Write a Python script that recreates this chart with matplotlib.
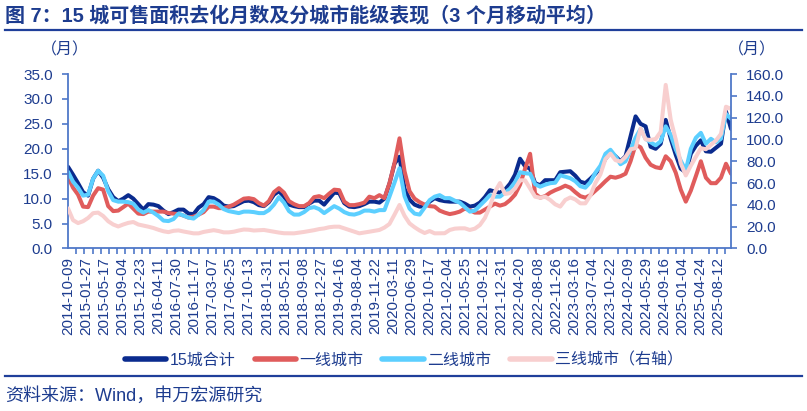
import matplotlib
matplotlib.use("Agg")
import matplotlib.pyplot as plt
import matplotlib.dates as mdates
from matplotlib.lines import Line2D
import pandas as pd

plt.rcParams['font.family'] = ['Liberation Sans', 'Noto Sans CJK SC', 'DejaVu Sans']

# ---------------- data ----------------
start_date = '2014-10-09'
end_date = '2025-10-27'
n_points = 133

city15 = [16.4,14.8,13.1,11.3,10.6,14.0,15.6,14.2,11.9,10.3,
          9.5,10.0,10.7,10.0,8.9,7.8,8.9,8.8,8.5,7.6,
          6.9,7.3,7.8,7.8,7.0,6.9,8.2,8.9,10.3,10.1,
          9.5,8.6,8.4,8.5,9.0,9.5,9.6,9.3,8.7,8.5,
          9.3,10.8,11.5,10.4,8.8,8.5,8.3,8.3,9.0,9.6,
          9.6,8.8,10.0,11.2,11.1,9.1,8.4,8.3,8.5,8.9,
          9.4,9.4,9.2,10.0,13.0,17.0,18.4,12.0,9.8,8.8,
          8.4,8.5,9.4,10.1,9.7,9.5,9.4,9.4,9.4,9.0,
          8.4,8.6,9.2,10.3,11.7,11.4,11.2,11.8,13.0,14.8,
          18.0,16.5,16.0,13.1,12.7,13.7,13.7,13.7,15.3,15.4,
          15.5,14.6,13.4,13.1,14.0,15.0,16.2,18.0,19.3,18.5,
          17.5,18.5,22.5,26.5,25.0,24.5,20.4,20.0,21.0,25.8,
          22.0,18.8,16.0,15.3,19.0,20.6,21.7,19.5,19.4,20.2,
          21.0,27.5,24.0]

tier1 = [14.4,12.2,10.8,8.4,8.3,10.6,12.1,11.8,8.5,7.5,
         7.6,8.3,9.0,8.0,7.0,6.9,7.4,7.4,7.4,7.4,
         7.1,7.0,6.9,6.6,6.2,6.4,6.8,7.3,8.4,8.4,
         8.1,8.1,8.4,8.8,9.4,10.0,10.1,9.9,9.1,8.6,
         9.5,11.3,12.1,11.2,9.5,8.9,8.5,8.5,9.1,10.3,
         10.5,10.1,11.0,11.8,11.7,9.4,8.7,8.7,8.9,9.2,
         10.4,10.1,10.7,10.1,13.1,17.1,22.1,15.5,11.5,10.0,
         9.3,8.8,8.5,8.4,7.6,7.2,6.9,7.1,7.4,8.0,
         7.7,7.2,7.2,7.8,8.4,9.0,8.6,8.9,9.7,10.8,
         12.8,16.0,19.0,11.0,10.2,10.5,11.2,11.7,12.1,12.6,
         12.2,11.3,10.5,10.2,10.7,11.6,12.5,13.5,14.4,14.2,
         14.5,15.0,17.5,20.8,20.3,18.2,16.8,16.3,16.1,18.5,
         17.5,15.2,11.8,9.4,11.6,14.5,17.5,14.2,13.1,13.1,
         14.2,17.0,15.0]

tier2 = [15.4,13.4,12.2,10.6,10.8,14.0,15.6,14.6,11.5,9.7,
         9.4,9.4,9.3,9.0,7.8,7.2,7.7,7.2,6.5,5.6,
         5.5,5.9,7.0,6.6,6.2,6.0,6.8,7.7,9.4,9.4,
         8.8,7.9,7.5,7.3,7.1,7.4,7.4,7.3,7.1,7.1,
         7.7,8.8,10.3,9.2,7.5,6.8,6.8,7.3,8.1,8.3,
         7.9,7.1,7.8,8.5,8.0,7.3,6.9,6.8,7.1,7.6,
         7.6,7.4,7.7,7.7,10.4,13.2,16.1,10.5,8.0,7.0,
         6.8,8.2,9.7,10.4,10.7,10.1,10.1,9.6,9.2,8.3,
         7.4,7.6,8.6,9.6,10.7,10.4,10.4,11.2,12.0,13.3,
         15.3,15.1,15.0,12.9,12.4,12.8,13.1,13.2,14.7,14.4,
         14.1,13.5,12.5,12.2,13.3,15.2,16.6,19.0,19.8,18.5,
         16.9,17.5,19.8,22.2,24.0,22.0,21.3,20.7,21.5,24.5,
         22.8,19.9,17.6,15.7,20.0,22.2,23.2,21.0,22.0,21.3,
         22.0,27.0,26.0]

tier3 = [36.8,26.0,23.3,25.0,28.0,32.4,32.9,29.8,25.0,22.0,
         20.2,22.0,23.5,24.3,22.0,21.0,20.0,18.8,17.2,15.8,
         15.0,16.2,16.6,15.6,14.8,13.9,13.9,15.2,16.0,16.8,
         16.0,14.8,14.8,15.4,16.5,17.4,17.2,16.5,16.8,17.0,
         16.2,15.4,14.6,14.0,13.9,13.9,14.5,15.2,16.0,16.8,
         17.8,18.4,19.5,20.0,20.0,18.5,17.0,15.4,13.9,14.6,
         15.4,16.2,17.0,19.2,22.5,31.0,39.9,30.0,23.0,19.5,
         16.5,14.2,16.0,13.9,13.9,14.0,17.0,18.2,18.5,18.5,
         17.0,18.2,21.5,28.0,38.8,52.0,60.0,50.0,50.8,55.0,
         62.5,62.5,55.0,47.5,46.5,47.5,44.5,40.5,38.4,44.5,
         46.8,45.0,41.4,41.4,48.5,60.0,68.0,82.0,87.0,81.0,
         79.6,84.0,91.0,92.0,110.0,100.0,99.5,100.5,107.0,150.0,
         118.0,100.0,78.0,67.0,76.0,84.0,92.0,91.0,95.0,99.0,
         105.0,130.0,128.0]

series_names = ['15城合计', '一线城市', '二线城市', '三线城市（右轴）']
left_ticks = [0, 5, 10, 15, 20, 25, 30, 35]
right_ticks = [0, 20, 40, 60, 80, 100, 120, 140, 160]

dates = pd.date_range(start_date, end_date, periods=n_points)
label_dates = pd.date_range(start_date, periods=37, freq='110D')
minor_dates = pd.date_range(start_date, end_date, freq='50D')

# ---------------- style ----------------
TXT = '#1d3c8f'
SPINE = '#4f78c8'
C_A = '#0a2b8e'
C_B = '#e05c5c'
C_C = '#5ccfff'
C_D = '#f8cfcf'
LW = 2.9

W, H = 807, 411
fig = plt.figure(figsize=(W/100, H/100), dpi=100)
ax = fig.add_axes([68/W, 1-248.5/H, (731-68)/W, (248.5-74)/H])
ax2 = ax.twinx()

lA, = ax.plot(dates, city15, color=C_A, lw=LW, solid_capstyle='round')
lB, = ax.plot(dates, tier1, color=C_B, lw=LW, solid_capstyle='round')
lC, = ax.plot(dates, tier2, color=C_C, lw=LW, solid_capstyle='round')
lD, = ax2.plot(dates, tier3, color=C_D, lw=LW, solid_capstyle='round')

ax.set_xlim(dates[0], dates[-1])
ax.set_ylim(0, 35)
ax2.set_ylim(0, 160)
ax.set_yticks(left_ticks)
ax.set_yticklabels([f'{v:.1f}' for v in left_ticks])
ax2.set_yticks(right_ticks)
ax2.set_yticklabels([f'{v:.1f}' for v in right_ticks])

ax.set_xticks(label_dates)
ax.set_xticklabels([d.strftime('%Y-%m-%d') for d in label_dates], rotation=90)
ax.set_xticks(minor_dates, minor=True)

for a in (ax, ax2):
    a.spines['top'].set_visible(False)
    for s in ['left', 'right', 'bottom']:
        a.spines[s].set_color(SPINE)
        a.spines[s].set_linewidth(1.3)
ax.spines['right'].set_visible(False)
ax2.spines['left'].set_visible(False)
ax2.spines['bottom'].set_visible(False)

ax.tick_params(axis='y', direction='out', length=4, width=1.2, color=SPINE,
               labelcolor=TXT, labelsize=11, pad=7)
ax2.tick_params(axis='y', direction='out', length=4, width=1.2, color=SPINE,
                labelcolor=TXT, labelsize=11, pad=7)
ax.tick_params(axis='x', which='major', length=0, labelcolor=TXT, labelsize=11, pad=6)
ax.tick_params(axis='x', which='minor', direction='out', length=4, width=1.2, color=SPINE)

# titles & texts
fig.text(5/W, 1-16/H, '图 7：15 城可售面积去化月数及分城市能级表现（3 个月移动平均）',
         fontsize=14.4, fontweight='bold', color=TXT, ha='left', va='center')
fig.add_artist(Line2D([5/W, 802/W], [1-30/H, 1-30/H], color='#1f3f9a', lw=1.6))
fig.add_artist(Line2D([5/W, 802/W], [1-376/H, 1-376/H], color='#1f3f9a', lw=1.6))
fig.text(5/W, 1-396/H, '资料来源：Wind，申万宏源研究', fontsize=13, color=TXT,
         ha='left', va='center')
fig.text(65/W, 1-50/H, '（月）', fontsize=11.5, color=TXT, ha='center', va='center')
fig.text(752/W, 1-50/H, '（月）', fontsize=11.5, color=TXT, ha='center', va='center')

handles = [Line2D([], [], color=c, lw=4, solid_capstyle='round') for c in (C_A, C_B, C_C, C_D)]
fig.legend(handles, series_names, loc='center', bbox_to_anchor=(404/W, 1-360/H), ncol=4,
           frameon=False, fontsize=11.5, handlelength=2.6, handletextpad=0.2,
           columnspacing=1.2, labelcolor=TXT, borderaxespad=0, borderpad=0)

fig.savefig('out.png', dpi=100)
